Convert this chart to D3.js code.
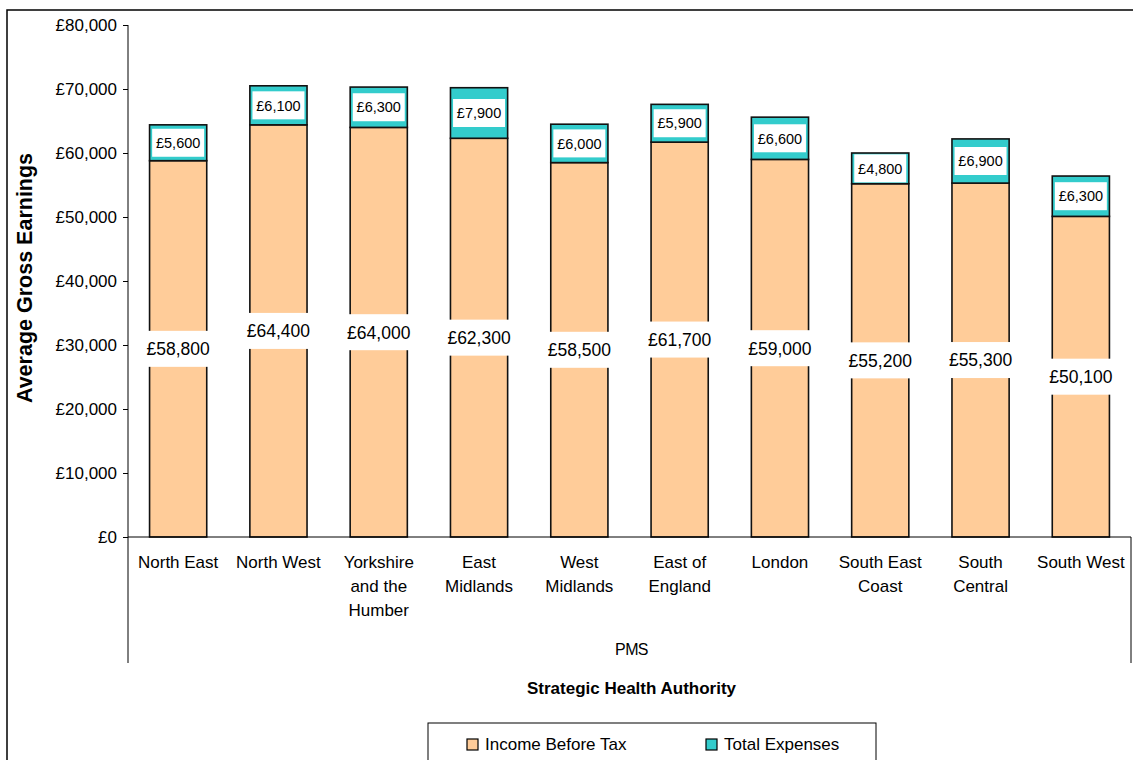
<!DOCTYPE html>
<html><head><meta charset="utf-8">
<script src="https://cdn.jsdelivr.net/npm/d3@7"></script>
<style>body{margin:0;background:#fff}svg{display:block}text{font-family:Arial,"Liberation Sans",sans-serif}</style>
</head><body><svg id="c" width="1133" height="760"></svg>
<script>
const categories = [["North East"],["North West"],["Yorkshire","and the","Humber"],["East","Midlands"],["West","Midlands"],["East of","England"],["London"],["South East","Coast"],["South","Central"],["South West"]];
const income = [58800,64400,64000,62300,58500,61700,59000,55200,55300,50100];
const expenses = [5600,6100,6300,7900,6000,5900,6600,4800,6900,6300];
const yTicks = [0,10000,20000,30000,40000,50000,60000,70000,80000];
const seriesNames = ["Income Before Tax","Total Expenses"];
const colors = ["#FFCC99","#33CCCC"];

const svg = d3.select("#c");
const L=128, R=1131, T=25, B=537;
const x = d3.scaleBand().domain(d3.range(categories.length)).range([L,R]).paddingInner(0.43).paddingOuter(0.215);
const y = d3.scaleLinear().domain([0,80000]).range([B,T]);
const fmt = v => "£" + d3.format(",")(v);

// outer border
svg.append("rect").attr("x",7).attr("y",10).attr("width",1200).attr("height",800).attr("fill","none").attr("stroke","#000").attr("stroke-width",1.5);

// y axis
const ya = svg.append("g").attr("transform",`translate(${L},0)`).call(d3.axisLeft(y).tickValues(yTicks).tickSize(5).tickPadding(6).tickFormat(fmt));
ya.select(".domain").remove();
ya.selectAll("line").attr("stroke","#000");
ya.selectAll("text").attr("font-size",17).attr("fill","#000");
svg.append("line").attr("x1",L).attr("x2",L).attr("y1",T).attr("y2",663).attr("stroke","#000");
svg.append("line").attr("x1",R).attr("x2",R).attr("y1",B).attr("y2",663).attr("stroke","#000");

// bars
const stack = categories.map((c,i)=>({i, inc:income[i], exp:expenses[i]}));
const g = svg.append("g");
g.selectAll(".inc").data(stack).join("rect").attr("x",d=>x(d.i)).attr("width",x.bandwidth())
 .attr("y",d=>y(d.inc)).attr("height",d=>y(0)-y(d.inc)).attr("fill",colors[0]).attr("stroke","#111").attr("stroke-width",1.6);
g.selectAll(".exp").data(stack).join("rect").attr("x",d=>x(d.i)).attr("width",x.bandwidth())
 .attr("y",d=>y(d.inc+d.exp)).attr("height",d=>y(d.inc)-y(d.inc+d.exp)).attr("fill",colors[1]).attr("stroke","#111").attr("stroke-width",1.6);

// x axis line
svg.append("line").attr("x1",L).attr("x2",R).attr("y1",B).attr("y2",B).attr("stroke","#000");

// expense labels
stack.forEach(d=>{
  const cx = x(d.i)+x.bandwidth()/2, cy = (y(d.inc)+y(d.inc+d.exp))/2;
  svg.append("rect").attr("x",cx-26).attr("y",cy-14).attr("width",52).attr("height",28).attr("fill","#fff");
  svg.append("text").attr("x",cx).attr("y",cy).attr("dy","0.36em").attr("text-anchor","middle").attr("font-size",14.5).attr("fill","#000").text(fmt(d.exp));
});
// income labels
stack.forEach(d=>{
  const cx = x(d.i)+x.bandwidth()/2, cy = (y(0)+y(d.inc))/2;
  const r = svg.append("rect").attr("fill","#fff");
  const t = svg.append("text").attr("x",cx).attr("y",cy).attr("dy","0.36em").attr("text-anchor","middle").attr("font-size",17.5).attr("fill","#000").text(fmt(d.inc));
  const w = t.node().getComputedTextLength()+6;
  r.attr("x",cx-w/2).attr("y",cy-18).attr("width",w).attr("height",36);
});

// category labels
categories.forEach((lines,i)=>{
  const t = svg.append("text").attr("x",x(i)+x.bandwidth()/2).attr("y",568).attr("text-anchor","middle").attr("font-size",17).attr("fill","#000");
  lines.forEach((s,k)=>t.append("tspan").attr("x",x(i)+x.bandwidth()/2).attr("dy",k?24:0).text(s));
});

svg.append("text").attr("x",(L+R)/2+2).attr("y",655).attr("text-anchor","middle").attr("font-size",16).attr("letter-spacing","-0.6").text("PMS");
svg.append("text").attr("x",(L+R)/2+2).attr("y",694).attr("text-anchor","middle").attr("font-size",17).attr("font-weight","bold").text("Strategic Health Authority");
svg.append("text").attr("transform",`translate(32,278) rotate(-90)`).attr("text-anchor","middle").attr("font-size",21.5).attr("font-weight","bold").text("Average Gross Earnings");

// legend
svg.append("rect").attr("x",428).attr("y",723).attr("width",448).attr("height",60).attr("fill","#fff").attr("stroke","#000").attr("stroke-width",1);
const lx=[467,706];
seriesNames.forEach((n,i)=>{
  svg.append("rect").attr("x",lx[i]).attr("y",739).attr("width",11).attr("height",11).attr("fill",colors[i]).attr("stroke","#000").attr("stroke-width",1.2);
  svg.append("text").attr("x",lx[i]+18).attr("y",750).attr("font-size",17).text(n);
});
</script></body></html>
